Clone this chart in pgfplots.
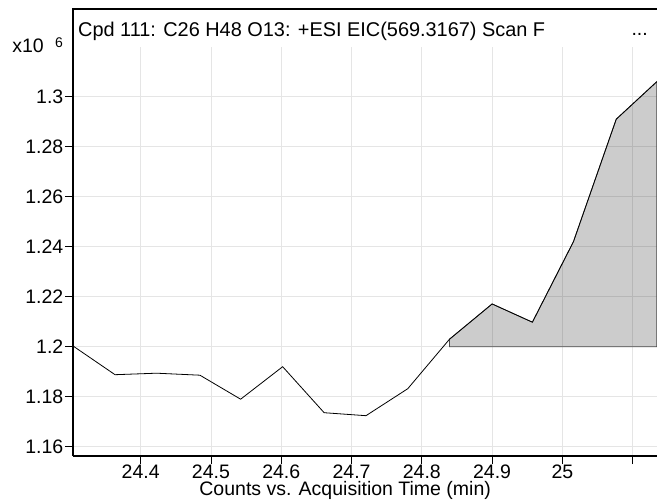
\documentclass[border=0pt]{standalone}
\usepackage{fontspec}
\setmainfont{Liberation Sans}
\usepackage{pgfplots}
\pgfplotsset{compat=1.18}
\begin{document}
\begin{tikzpicture}
\begin{axis}[
  scale only axis, width=584bp, height=447bp,
  at={(0,0)}, anchor=south west,
  xmin=24.3037, xmax=25.1346, ymin=1.15628, ymax=1.33508,
  axis x line*=bottom, axis y line*=left,
  xtick={24.4,24.5,24.6,24.7,24.8,24.9,25.0,25.1},
  xticklabels={24.4,24.5,24.6,24.7,24.8,24.9,25,},
  ytick={1.16,1.18,1.2,1.22,1.24,1.26,1.28,1.3},
  yticklabels={1.16,1.18,1.2,1.22,1.24,1.26,1.28,1.3},
  tick align=outside, major tick length=8bp,
  grid=major, major grid style={color=black!10, line width=0.8bp},
  tick style={black, line width=0.8bp},
  axis line style={line width=1.2bp},
  ticklabel style={font=\fontsize{19.5bp}{23bp}\selectfont},
  xticklabel style={inner sep=1bp},
  yticklabel style={inner sep=1.5bp},
  xlabel={Counts vs. Acquisition Time (min)},
  xlabel style={font=\fontsize{19.5bp}{23bp}\selectfont, at={(axis description cs:0.466,-0.078)}, anchor=center, inner sep=0pt},
]
\fill[white] (rel axis cs:0.003,0.915) rectangle (rel axis cs:1,1.01);
\addplot[fill=black, fill opacity=0.2, draw=black!70, draw opacity=1, line width=0.8bp] coordinates {
(24.8394,1.2000) (24.8394,1.2030) (24.9000,1.2171) (24.9573,1.2098) (25.0157,1.2420) (25.0766,1.2910) (25.1343,1.3060) (25.1343,1.2000)} -- cycle;
\addplot[black, line width=0.8bp] coordinates {
(24.3037,1.2003) (24.3635,1.1888) (24.4227,1.1894) (24.4843,1.1886) (24.5422,1.1790) (24.6020,1.1920) (24.6610,1.1736) (24.7205,1.1724) (24.7800,1.1832) (24.8394,1.2030) (24.9000,1.2171) (24.9573,1.2098) (25.0157,1.2420) (25.0766,1.2910) (25.1343,1.3060)};
\end{axis}
\draw[line width=1.2bp] (0,0) -- (0,447bp) -- (584bp,447bp);
\node[anchor=base west, inner sep=0pt, font=\fontsize{19.9bp}{23bp}\selectfont] at (5bp,419bp) {Cpd 111: C26 H48 O13: +ESI EIC(569.3167) Scan F};
\node[anchor=base east, inner sep=0pt, font=\fontsize{19.5bp}{23bp}\selectfont] at (575bp,420bp) {...};
\node[anchor=base east, inner sep=0pt, font=\fontsize{19.5bp}{23bp}\selectfont] at (-29bp,403bp) {x10};
\node[anchor=base west, inner sep=0pt, font=\fontsize{14bp}{16bp}\selectfont] at (-18bp,408bp) {6};
\pgfresetboundingbox
\path[use as bounding box] (-73bp,-46bp) rectangle (584bp,456bp);
\end{tikzpicture}
\end{document}
